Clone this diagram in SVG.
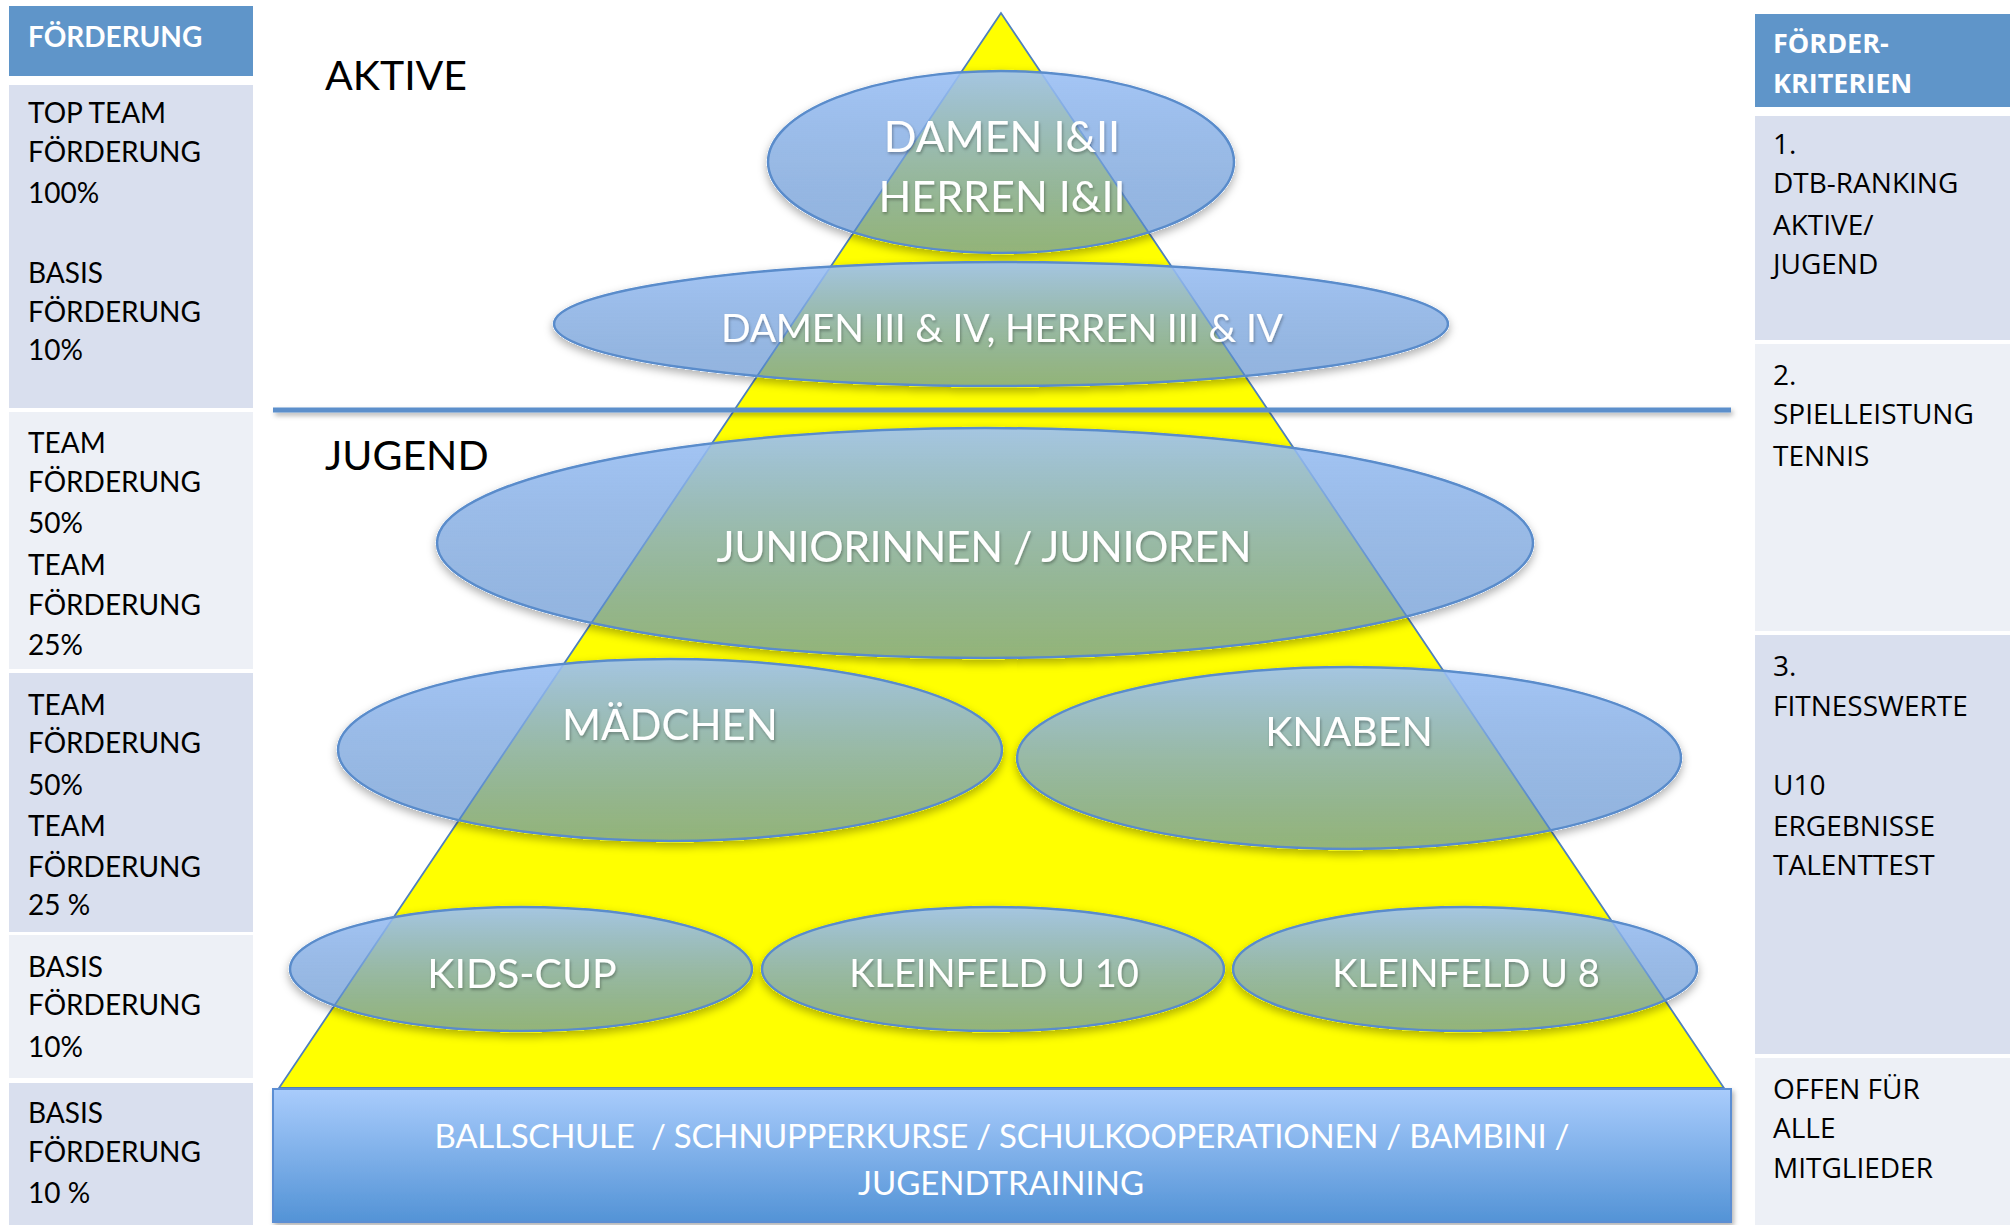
<svg xmlns="http://www.w3.org/2000/svg" width="2016" height="1225" viewBox="0 0 2016 1225">
<defs>
  <linearGradient id="ellGrad" x1="0" y1="0" x2="0" y2="1">
    <stop offset="0" stop-color="#9DC1F5" stop-opacity="0.92"/>
    <stop offset="0.5" stop-color="#76A2DC" stop-opacity="0.75"/>
    <stop offset="1" stop-color="#4B82C8" stop-opacity="0.6"/>
  </linearGradient>
  <linearGradient id="baseGrad" x1="0" y1="0" x2="0" y2="1">
    <stop offset="0" stop-color="#A9CCFC"/>
    <stop offset="1" stop-color="#5393D6"/>
  </linearGradient>
  <filter id="osh" x="-10%" y="-20%" width="120%" height="150%">
    <feComponentTransfer in="SourceAlpha" result="solid"><feFuncA type="linear" slope="20"/></feComponentTransfer>
    <feGaussianBlur in="solid" stdDeviation="4"/>
    <feOffset dy="4" result="b"/>
    <feFlood flood-color="#000" flood-opacity="0.3"/>
    <feComposite in2="b" operator="in" result="s"/>
    <feComposite in="s" in2="solid" operator="out" result="so"/>
    <feMerge><feMergeNode in="so"/><feMergeNode in="SourceGraphic"/></feMerge>
  </filter>
  <filter id="tsh" x="-5%" y="-30%" width="110%" height="160%">
    <feDropShadow dx="1" dy="2" stdDeviation="1.5" flood-color="#000" flood-opacity="0.3"/>
  </filter>
  <filter id="lsh" filterUnits="userSpaceOnUse" x="200" y="380" width="1600" height="880">
    <feDropShadow dx="2" dy="3" stdDeviation="2.5" flood-color="#000" flood-opacity="0.3"/>
  </filter>
</defs>
<style>
  .hdr { fill: #5F95C9; }
  .dark { fill: #D9DFEE; }
  .light { fill: #EDF0F6; }
  .lt { font-family: Lato, "Liberation Sans", sans-serif; font-size: 28px; fill: #000; }
  .lh { font-family: Lato, "Liberation Sans", sans-serif; font-size: 28px; font-weight: bold; fill: #fff; }
  .rt { font-family: "Open Sans", "DejaVu Sans", sans-serif; font-size: 28px; fill: #000; }
  .rh { font-family: "Open Sans", "DejaVu Sans", sans-serif; font-size: 27px; font-weight: bold; fill: #fff; }
  .sec { font-family: Lato, "Liberation Sans", sans-serif; font-size: 41px; fill: #000; }
  .ell { fill: url(#ellGrad); stroke: #5A8CCB; stroke-width: 2.5; }
  .et { font-family: Lato, "Liberation Sans", sans-serif; fill: #fff; text-anchor: middle; }
</style>
<rect width="2016" height="1225" fill="#fff"/>

<g id="left-column">
  <g id="left-header"><rect class="hdr" x="9" y="6" width="244" height="70"/><text class="lh" x="28" y="47">FÖRDERUNG</text></g>
  <g id="left-row1"><rect class="dark" x="9" y="85" width="244" height="323"/>
    <text class="lt" x="28" y="123">TOP TEAM</text><text class="lt" x="28" y="162">FÖRDERUNG</text><text class="lt" x="28" y="203">100%</text>
    <text class="lt" x="28" y="283">BASIS</text><text class="lt" x="28" y="322">FÖRDERUNG</text><text class="lt" x="28" y="360">10%</text></g>
  <g id="left-row2"><rect class="light" x="9" y="412" width="244" height="257"/>
    <text class="lt" x="28" y="453">TEAM</text><text class="lt" x="28" y="492">FÖRDERUNG</text><text class="lt" x="28" y="533">50%</text>
    <text class="lt" x="28" y="575">TEAM</text><text class="lt" x="28" y="615">FÖRDERUNG</text><text class="lt" x="28" y="655">25%</text></g>
  <g id="left-row3"><rect class="dark" x="9" y="673" width="244" height="259"/>
    <text class="lt" x="28" y="715">TEAM</text><text class="lt" x="28" y="753">FÖRDERUNG</text><text class="lt" x="28" y="795">50%</text>
    <text class="lt" x="28" y="836">TEAM</text><text class="lt" x="28" y="877">FÖRDERUNG</text><text class="lt" x="28" y="915">25 %</text></g>
  <g id="left-row4"><rect class="light" x="9" y="935" width="244" height="143"/>
    <text class="lt" x="28" y="977">BASIS</text><text class="lt" x="28" y="1015">FÖRDERUNG</text><text class="lt" x="28" y="1057">10%</text></g>
  <g id="left-row5"><rect class="dark" x="9" y="1083" width="244" height="142"/>
    <text class="lt" x="28" y="1123">BASIS</text><text class="lt" x="28" y="1162">FÖRDERUNG</text><text class="lt" x="28" y="1203">10 %</text></g>
</g>

<g id="right-column">
  <g id="right-header"><rect class="hdr" x="1755" y="14" width="255" height="93"/>
    <text class="rh" x="1773" y="53">FÖRDER-</text><text class="rh" x="1773" y="93">KRITERIEN</text></g>
  <g id="right-row1"><rect class="dark" x="1755" y="116" width="255" height="224"/>
    <text class="rt" x="1773" y="154">1.</text><text class="rt" x="1773" y="193">DTB-RANKING</text><text class="rt" x="1773" y="235">AKTIVE/</text><text class="rt" x="1773" y="274">JUGEND</text></g>
  <g id="right-row2"><rect class="light" x="1755" y="344" width="255" height="287"/>
    <text class="rt" x="1773" y="385">2.</text><text class="rt" x="1773" y="424">SPIELLEISTUNG</text><text class="rt" x="1773" y="466">TENNIS</text></g>
  <g id="right-row3"><rect class="dark" x="1755" y="635" width="255" height="419"/>
    <text class="rt" x="1773" y="676">3.</text><text class="rt" x="1773" y="716">FITNESSWERTE</text>
    <text class="rt" x="1773" y="795">U10</text><text class="rt" x="1773" y="836">ERGEBNISSE</text><text class="rt" x="1773" y="875">TALENTTEST</text></g>
  <g id="right-row4"><rect class="light" x="1755" y="1058" width="255" height="167"/>
    <text class="rt" x="1773" y="1099">OFFEN FÜR</text><text class="rt" x="1773" y="1138">ALLE</text><text class="rt" x="1773" y="1178">MITGLIEDER</text></g>
</g>

<g id="pyramid">
  <polygon points="1001,13 279,1088 1724,1088" fill="#FFFF00" stroke="#4F81BD" stroke-width="1.8"/>
</g>

<g id="section-labels">
  <text class="sec" x="325" y="90">AKTIVE</text>
  <text class="sec" x="325" y="470">JUGEND</text>
</g>

<g id="connectors">
  <rect x="273" y="407.5" width="1458" height="5" fill="#5B8FCB" filter="url(#lsh)"/>
</g>

<g id="node-damen-herren-1-2">
  <ellipse class="ell" cx="1001" cy="162" rx="233" ry="91" filter="url(#osh)"/>
  <text class="et" x="1002" y="152" font-size="43" filter="url(#tsh)">DAMEN I&amp;II</text>
  <text class="et" x="1002" y="212" font-size="43" filter="url(#tsh)">HERREN I&amp;II</text>
</g>
<g id="node-damen-herren-3-4">
  <ellipse class="ell" cx="1001" cy="324" rx="447" ry="62" filter="url(#osh)"/>
  <text class="et" x="1002" y="342" font-size="39" textLength="562" filter="url(#tsh)">DAMEN III &amp; IV, HERREN III &amp; IV</text>
</g>
<g id="node-junioren">
  <ellipse class="ell" cx="985" cy="543" rx="548" ry="115" filter="url(#osh)"/>
  <text class="et" x="984" y="562" font-size="43" textLength="535" filter="url(#tsh)">JUNIORINNEN / JUNIOREN</text>
</g>
<g id="node-maedchen">
  <ellipse class="ell" cx="670" cy="750" rx="332" ry="91" filter="url(#osh)"/>
  <text class="et" x="670" y="740" font-size="42" filter="url(#tsh)">MÄDCHEN</text>
</g>
<g id="node-knaben">
  <ellipse class="ell" cx="1349" cy="758" rx="332" ry="91" filter="url(#osh)"/>
  <text class="et" x="1349" y="746" font-size="41" filter="url(#tsh)">KNABEN</text>
</g>
<g id="node-kids-cup">
  <ellipse class="ell" cx="521" cy="969" rx="231" ry="62" filter="url(#osh)"/>
  <text class="et" x="522" y="988" font-size="41" filter="url(#tsh)">KIDS-CUP</text>
</g>
<g id="node-kleinfeld-u10">
  <ellipse class="ell" cx="993" cy="969" rx="231" ry="62" filter="url(#osh)"/>
  <text class="et" x="994" y="987" font-size="38" filter="url(#tsh)">KLEINFELD U 10</text>
</g>
<g id="node-kleinfeld-u8">
  <ellipse class="ell" cx="1465" cy="969" rx="232" ry="62" filter="url(#osh)"/>
  <text class="et" x="1466" y="987" font-size="38" filter="url(#tsh)">KLEINFELD U 8</text>
</g>

<g id="node-base">
  <rect x="273" y="1089" width="1458" height="133" fill="url(#baseGrad)" stroke="#5B8ED3" stroke-width="2" filter="url(#lsh)"/>
  <text class="et" x="1002" y="1148" font-size="33" textLength="1135" xml:space="preserve">BALLSCHULE  / SCHNUPPERKURSE / SCHULKOOPERATIONEN / BAMBINI /</text>
  <text class="et" x="1001" y="1195" font-size="33">JUGENDTRAINING</text>
</g>
</svg>
